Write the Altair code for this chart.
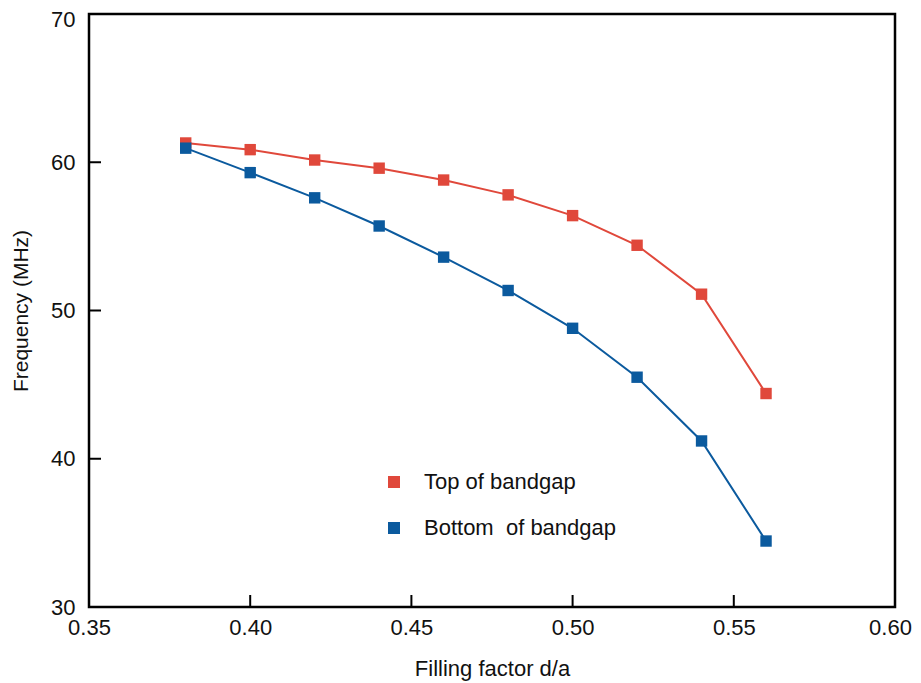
import altair as alt
import pandas as pd

filling = [0.38, 0.40, 0.42, 0.44, 0.46, 0.48, 0.50, 0.52, 0.54, 0.56]
top_freq = [61.3, 60.85, 60.15, 59.6, 58.8, 57.8, 56.4, 54.4, 51.1, 44.4]
bottom_freq = [60.95, 59.3, 57.6, 55.7, 53.6, 51.35, 48.8, 45.5, 41.2, 34.45]
series_names = ["Top of bandgap", "Bottom\u00a0 of bandgap"]
series_colors = ["#e0483b", "#0b5a9e"]
x_ticks = [0.35, 0.40, 0.45, 0.50, 0.55, 0.60]
y_ticks = [30, 40, 50, 60, 70]
x_inner_ticks = [0.40, 0.45, 0.50, 0.55]
y_inner_ticks = [40, 50, 60]

df = pd.DataFrame({
    "x": filling * 2,
    "y": top_freq + bottom_freq,
    "series": [series_names[0]] * len(filling) + [series_names[1]] * len(filling),
})

FONT = "Liberation Sans"
W, H = 806, 593
TICK_Y = 12 * 40 / H      # inner tick length in MHz units
TICK_X = 12 * 0.25 / W    # inner tick length in d/a units

xs = alt.Scale(domain=[0.35, 0.60], nice=False)
ys = alt.Scale(domain=[30, 70], nice=False)
cscale = alt.Scale(domain=series_names, range=series_colors)
color = alt.Color(
    "series:N",
    scale=cscale,
    sort=series_names,
    legend=alt.Legend(
        title=None, orient="none", legendX=294, legendY=457,
        symbolType="square", symbolSize=144, symbolStrokeWidth=0,
        labelFont=FONT, labelFontSize=22, labelColor="#111", labelLimit=400,
        labelOffset=19, rowPadding=24, padding=0,
    ),
)

x_enc = alt.X("x:Q", scale=xs, axis=alt.Axis(
    values=x_ticks, format=".2f", title="Filling factor d/a", grid=False,
    domain=False, ticks=False, labelPadding=10, labelFont=FONT, labelFontSize=22,
    labelColor="#111", titleFont=FONT, titleFontSize=22, titleFontWeight="normal",
    titleColor="#111", titlePadding=20, labelFlush=False,
    labelOffset={"condition": {"test": "datum.value >= 0.599", "value": -5}, "value": 0},
))
y_enc = alt.Y("y:Q", scale=ys, axis=alt.Axis(
    values=y_ticks, title="Frequency (MHz)", grid=False, domain=False, ticks=False,
    labelPadding=14, labelFont=FONT, labelFontSize=22, labelColor="#111",
    labelOffset={"condition": {"test": "datum.value == 70", "value": 5}, "value": 0},
    titleFont=FONT, titleFontSize=21, titleFontWeight="normal", titleColor="#111",
    titlePadding=19,
))

lines = alt.Chart(df).mark_line(strokeWidth=2).encode(
    x=x_enc, y=y_enc, color=color, detail="series:N"
)
points = alt.Chart(df).mark_point(shape="square", filled=True, size=130, opacity=1).encode(
    x="x:Q", y="y:Q", color=alt.Color("series:N", legend=None, scale=cscale)
)

xt_df = pd.DataFrame({"v": x_inner_ticks, "y0": [30.0] * 4, "y1": [30.0 + TICK_Y] * 4})
yt_df = pd.DataFrame({"v": y_inner_ticks, "x0": [0.35] * 3, "x1": [0.35 + TICK_X] * 3})

xt = alt.Chart(xt_df).mark_rule(color="black", strokeWidth=2).encode(
    x="v:Q", y="y0:Q", y2="y1:Q"
)
yt = alt.Chart(yt_df).mark_rule(color="black", strokeWidth=2).encode(
    y="v:Q", x="x0:Q", x2="x1:Q"
)

chart = alt.layer(lines, points, xt, yt).properties(
    width=W, height=H,
    autosize=alt.AutoSizeParams(type="none"),
    padding={"left": 81, "top": 6, "right": 18, "bottom": 74},
    background="white",
).configure_view(stroke="black", strokeWidth=2.5)

chart.save("out.html", embed_options={"renderer": "svg", "actions": False})
